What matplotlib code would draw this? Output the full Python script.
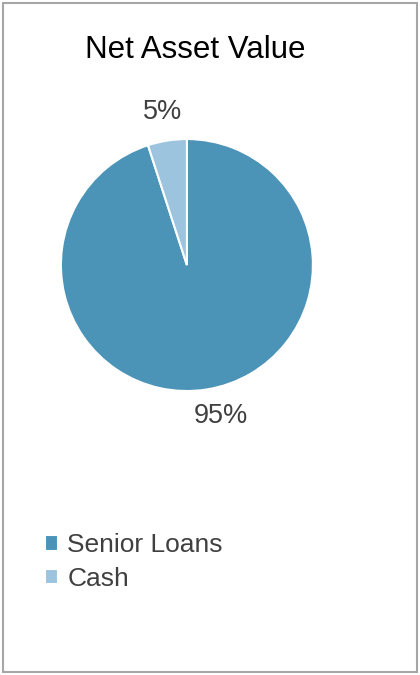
import matplotlib.pyplot as plt
import matplotlib.patches as patches

plt.rcParams['font.family'] = ['Liberation Sans', 'DejaVu Sans']

# data
labels = ['Senior Loans', 'Cash']
values = [95, 5]
colors = ['#4b94b8', '#9dc4de']

fig = plt.figure(figsize=(4.2, 6.75), dpi=100)

# outer border of the chart box
fig.add_artist(patches.Rectangle((0.008, 0.004), 0.986, 0.991, transform=fig.transFigure,
                                 fill=False, edgecolor='#a6a6a6', linewidth=1.5))

fig.text(0.466, 0.926, 'Net Asset Value', fontsize=22.5, color='black', ha='center', va='center')

ax = fig.add_axes([0.145, 0.4207, 0.6, 0.3733])
wedges, texts, autotexts = ax.pie(values, colors=colors, startangle=90, counterclock=False,
                                  autopct='%1.0f%%', pctdistance=1.23,
                                  wedgeprops=dict(edgecolor='white', linewidth=1.5),
                                  textprops=dict(fontsize=19.5, color='#404040'))
# excel puts the big label a bit more to the right
x0, y0 = autotexts[0].get_position()
autotexts[0].set_position((x0 + 0.08, y0 + 0.02))
ax.set_xlim(-1, 1)
ax.set_ylim(-1, 1)
ax.set_aspect('equal')

fig.legend(wedges, labels, loc='upper left', bbox_to_anchor=(0.05, 0.245),
           frameon=False, fontsize=19, labelcolor='#404040',
           handlelength=0.5, handleheight=0.5, handletextpad=0.35, labelspacing=0.35)

fig.savefig('out.png', dpi=100)
